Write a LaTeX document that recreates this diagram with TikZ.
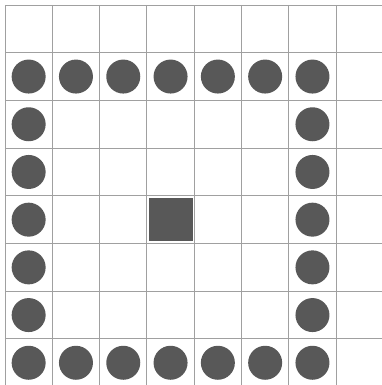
\documentclass[tikz,border=0pt]{standalone}
\usepackage{tikz}
\usepackage{xcolor}
\definecolor{dotGray}{RGB}{88,88,88}
\definecolor{lineGray}{RGB}{160,160,160}

\begin{document}
\begin{tikzpicture}[x=47.3pt,y=-47.7pt,
  gridLine/.style={draw=lineGray,line width=0.9pt},
  dotNode/.style={circle,fill=dotGray,minimum size=34pt,inner sep=0pt},
  blockNode/.style={rectangle,fill=dotGray,minimum width=44pt,minimum height=43pt,inner sep=0pt}]
\useasboundingbox (-0.1057,-0.1048) rectangle (7.949,7.966);
% grid lines
\foreach \i in {0,...,8} {
  \draw[gridLine] (\i,0) -- (\i,8);
  \draw[gridLine] (0,\i) -- (8,\i);
}
% ring of dots
\foreach \c in {0,...,6} {
  \node[dotNode] (top\c) at (\c+0.5,1.5) {};
  \node[dotNode] (bot\c) at (\c+0.5,7.5) {};
}
\foreach \r in {2,...,6} {
  \node[dotNode] (left\r) at (0.5,\r+0.5) {};
  \node[dotNode] (right\r) at (6.5,\r+0.5) {};
}
% the block
\node[blockNode] (block) at (3.5,4.5) {};
\end{tikzpicture}
\end{document}
